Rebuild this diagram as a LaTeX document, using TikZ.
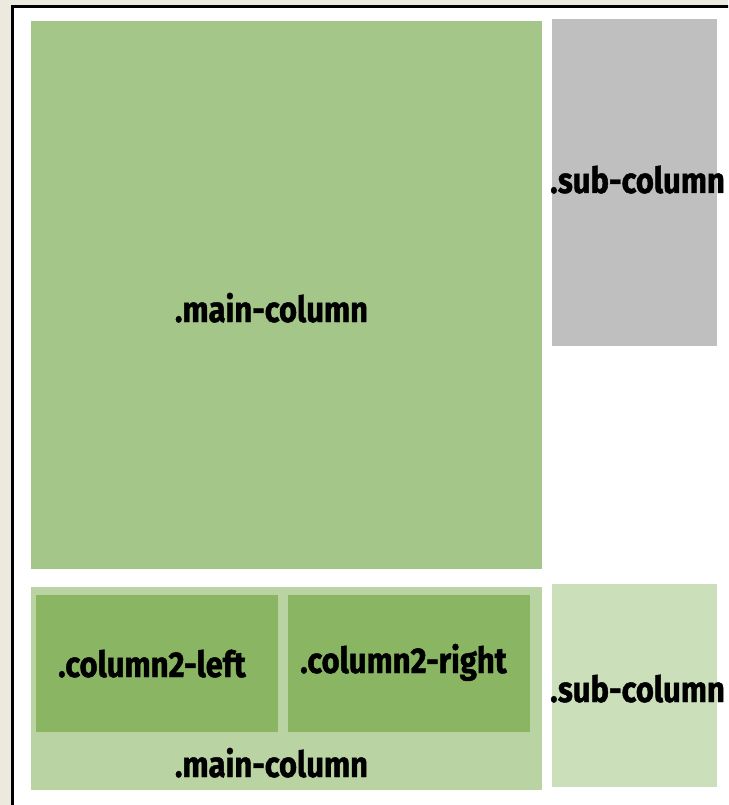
\documentclass[tikz,border=0pt]{standalone}
\usepackage{fontspec}
\newfontfamily\lblfont{Fira Sans}[FakeStretch=0.86,FakeBold=1.2]
\definecolor{beige}{HTML}{ECE9DE}
\definecolor{maingreen}{HTML}{A4C689}
\definecolor{subgray}{HTML}{BFBFBF}
\definecolor{mainlight}{HTML}{BAD3A3}
\definecolor{colgreen}{HTML}{8AB563}
\definecolor{sublight}{HTML}{CCDFBB}
\begin{document}
\begin{tikzpicture}[x=1pt,y=-1pt,
  box/.style={inner sep=0pt,outer sep=0pt},
  lbl/.style={inner sep=0pt,font=\lblfont\bfseries\fontsize{36}{40}\selectfont,text=black}]
\useasboundingbox (0,0) rectangle (728,805);
\clip (0,0) rectangle (728,805);
\fill[beige] (0,0) rectangle (728,805);
\draw[line width=3pt,fill=white] (12.5,6.5) rectangle (760,840);
% boxes
\fill[maingreen] (31,21) rectangle (542,569);
\fill[subgray] (552,19) rectangle (717,346);
\fill[mainlight] (31,587) rectangle (542,790);
\fill[colgreen] (36,595) rectangle (277.5,731.5);
\fill[colgreen] (288,595) rectangle (530,731.5);
\fill[sublight] (552,584) rectangle (717,787);
% labels
\node[lbl,anchor=base] (mainA) at (271.5,322) {.main-column};
\node[lbl,anchor=base west] (subA) at (550,193) {.sub-column};
\node[lbl,anchor=base] (c2l) at (152,677) {.column2-left};
\node[lbl,anchor=base] (c2r) at (403.5,673) {.column2-right};
\node[lbl,anchor=base] (mainB) at (271.5,777) {.main-column};
\node[lbl,anchor=base west] (subB) at (550,702) {.sub-column};
\end{tikzpicture}
\end{document}
